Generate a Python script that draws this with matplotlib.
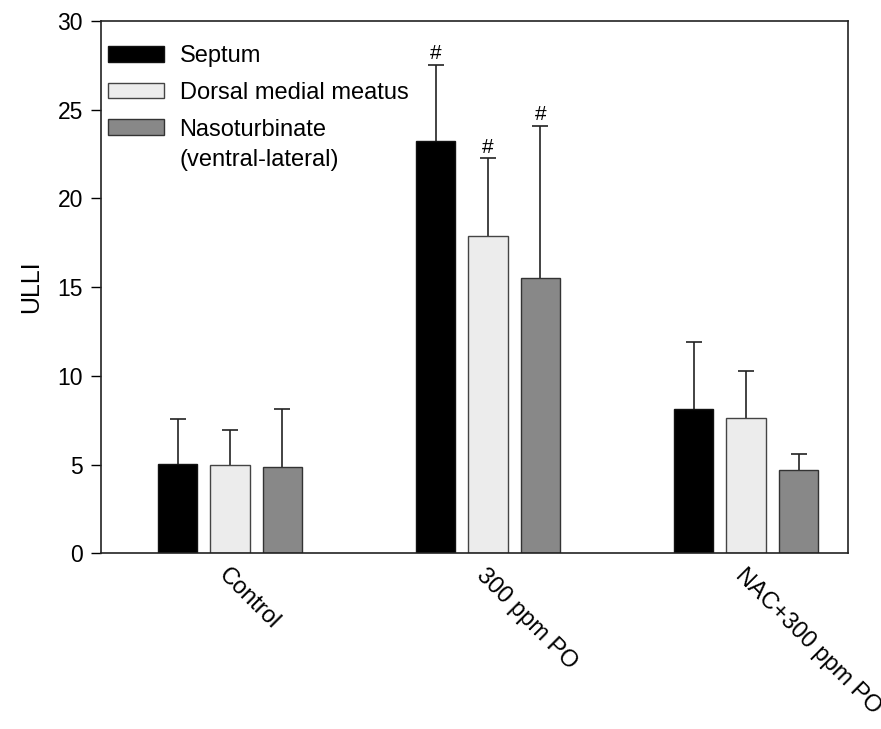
import numpy as np
import matplotlib
matplotlib.use('Agg')
import matplotlib.pyplot as plt

plt.rcParams['font.family'] = ['Liberation Sans', 'DejaVu Sans']

groups = ['Control', '300 ppm PO', 'NAC+300 ppm PO']
regions = ['Septum', 'Dorsal medial meatus', 'Nasoturbinate']
region_note = '(ventral-lateral)'

# mean ULLI and upper error (SD) per region
septum = [5.05, 23.2, 8.15]
septum_err = [2.5, 4.3, 3.75]
dorsal = [5.0, 17.9, 7.62]
dorsal_err = [1.95, 4.35, 2.67]
naso = [4.85, 15.53, 4.68]
naso_err = [3.27, 8.53, 0.91]

# significance marks (# vs control)
marks = [['', '#', ''], ['', '#', ''], ['', '#', '']]

colors = ['#000000', '#ececec', '#888888']
edges = ['#111111', '#444444', '#333333']

fig = plt.figure(figsize=(8.81, 7.29), dpi=100)
ax = fig.add_axes([0.1146, 0.241, 0.848, 0.7305])

x = np.arange(len(groups))
w = 0.153
step = 0.203
cap = 0.031
means = [septum, dorsal, naso]
errs = [septum_err, dorsal_err, naso_err]
for i in range(3):
    pos = x + (i - 1) * step
    m = np.array(means[i])
    top = m + np.array(errs[i])
    ax.bar(pos, m, w, color=colors[i], edgecolor=edges[i], linewidth=1.0,
           label=regions[i], zorder=2)
    # upper error bars only
    ax.vlines(pos, m, top, color='#222222', linewidth=1.2, zorder=1)
    ax.hlines(top, pos - cap, pos + cap, color='#222222', linewidth=1.2, zorder=1)
    for j in range(3):
        if marks[i][j]:
            ax.text(pos[j], top[j] + 0.1, marks[i][j],
                    ha='center', va='bottom', fontsize=15)

ax.set_xlim(-0.5, 2.395)
ax.set_ylim(0, 30)
ax.set_yticks(range(0, 31, 5))
ax.tick_params(axis='y', direction='out', length=7, width=1, labelsize=16.5, pad=6)
ax.tick_params(axis='x', length=0, pad=8)
ax.set_xticks(x)
ax.set_xticklabels(groups, rotation=-45, ha='left', va='top',
                   rotation_mode='anchor', fontsize=17)
ax.set_ylabel('ULLI', fontsize=18, labelpad=10)
for s in ax.spines.values():
    s.set_linewidth(1.2)
    s.set_color('#222222')

leg = ax.legend(loc='upper left', bbox_to_anchor=(-0.013, 0.985), frameon=False,
                fontsize=17, handlelength=2.4, handleheight=0.64, handletextpad=0.64,
                labelspacing=0.62, borderaxespad=0.3)

# second line of the third legend entry, placed under its label
fig.canvas.draw()
bb = leg.get_texts()[2].get_window_extent().transformed(fig.transFigure.inverted())
fig.text(bb.x0, bb.y0 - 0.011, region_note, ha='left', va='top', fontsize=17)

fig.savefig('out.png', dpi=100)
